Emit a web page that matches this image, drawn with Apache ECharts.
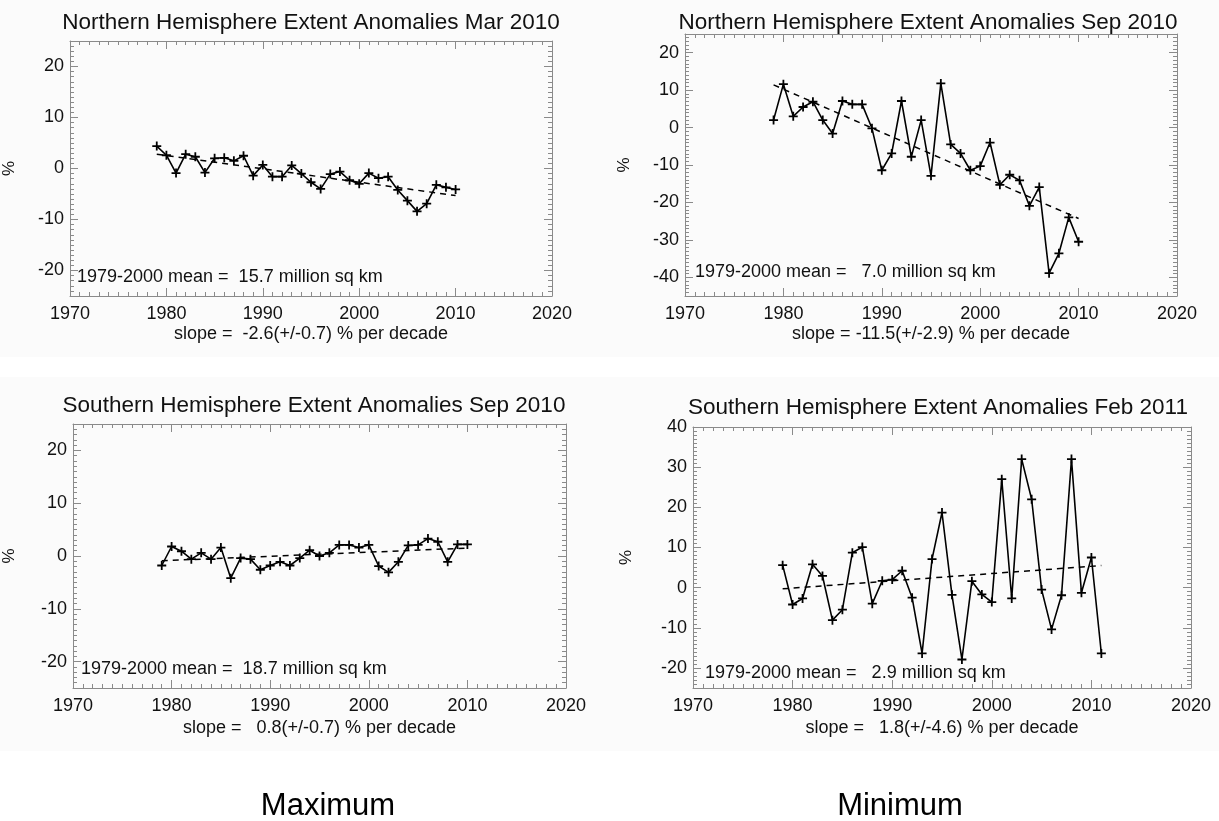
<!DOCTYPE html>
<html>
<head>
<meta charset="utf-8">
<script src="https://cdn.jsdelivr.net/npm/echarts@6/dist/echarts.min.js"></script>
<style>
  html, body { margin: 0; padding: 0; background: #fff; }
  #chart { width: 1219px; height: 821px; }
</style>
</head>
<body>
<div id="chart"></div>
<script>
// Sea-ice extent anomalies (% of 1979-2000 mean)
const years79to10 = [1979, 1980, 1981, 1982, 1983, 1984, 1985, 1986, 1987, 1988,
  1989, 1990, 1991, 1992, 1993, 1994, 1995, 1996, 1997, 1998, 1999, 2000,
  2001, 2002, 2003, 2004, 2005, 2006, 2007, 2008, 2009, 2010];
const years79to11 = [1979, 1980, 1981, 1982, 1983, 1984, 1985, 1986, 1987, 1988,
  1989, 1990, 1991, 1992, 1993, 1994, 1995, 1996, 1997, 1998, 1999, 2000,
  2001, 2002, 2003, 2004, 2005, 2006, 2007, 2008, 2009, 2010, 2011];

const nhMar = [4.4, 2.6, -0.9, 2.8, 2.3, -0.8, 2.0, 2.1, 1.5, 2.5, -1.4, 0.7,
  -1.6, -1.6, 0.6, -1.0, -2.7, -4.0, -1.1, -0.6, -2.3, -3.0, -0.9, -1.9, -1.6,
  -4.2, -6.3, -8.4, -6.9, -3.2, -3.7, -4.1];
const nhSep = [2.0, 11.6, 3.0, 5.5, 6.9, 2.0, -1.6, 7.1, 6.2, 6.2, -0.2, -11.4,
  -6.9, 7.1, -7.8, 2.0, -12.9, 11.8, -4.5, -6.9, -11.4, -10.3, -4.0, -15.3,
  -12.6, -14.1, -20.9, -15.9, -38.9, -33.6, -24.0, -30.5];
const shSep = [-1.8, 1.8, 0.9, -0.6, 0.6, -0.6, 1.6, -4.2, -0.4, -0.6, -2.6,
  -1.8, -1.1, -1.8, -0.4, 1.1, 0.0, 0.6, 2.1, 2.1, 1.6, 2.1, -1.9, -3.1, -1.1,
  2.0, 2.1, 3.3, 2.7, -1.1, 2.2, 2.2];
const shFeb = [5.6, -4.2, -2.7, 5.8, 2.9, -8.1, -5.5, 8.7, 10.1, -4.0, 1.7, 2.0,
  4.2, -2.5, -16.4, 7.1, 18.7, -1.8, -17.9, 1.6, -1.7, -3.6, 27.0, -2.7, 32.0,
  22.0, -0.5, -10.4, -1.9, 32.0, -1.3, 7.5, -16.4];

// Linear trend end points [year, %]
const nhMarTrend = [[1979, 2.8], [2010, -5.3]];
const nhSepTrend = [[1979, 11.4], [2010, -24.3]];
const shSepTrend = [[1979, -0.9], [2010, 1.5]];
const shFebTrend = [[1979, -0.3], [2011, 5.5]];

// Axis ranges and labelled ticks
const yearTicks = [1970, 1980, 1990, 2000, 2010, 2020];
const nhMarYTicks = [-20, -10, 0, 10, 20];
const nhSepYTicks = [-40, -30, -20, -10, 0, 10, 20];
const shSepYTicks = [-20, -10, 0, 10, 20];
const shFebYTicks = [-20, -10, 0, 10, 20, 30, 40];

const titles = [
  'Northern Hemisphere Extent Anomalies Mar 2010',
  'Northern Hemisphere Extent Anomalies Sep 2010',
  'Southern Hemisphere Extent Anomalies Sep 2010',
  'Southern Hemisphere Extent Anomalies Feb 2011'
];
const meanTexts = [
  '1979-2000 mean =  15.7 million sq km',
  '1979-2000 mean =   7.0 million sq km',
  '1979-2000 mean =  18.7 million sq km',
  '1979-2000 mean =   2.9 million sq km'
];
const slopeTexts = [
  'slope =  -2.6(+/-0.7) % per decade',
  'slope = -11.5(+/-2.9) % per decade',
  'slope =   0.8(+/-0.7) % per decade',
  'slope =   1.8(+/-4.6) % per decade'
];

const FONT = '"Liberation Sans", Arial, Helvetica, sans-serif';
const INK = '#111';
const FRAME = '#8a8a8a';

const panels = [
  { grid: { left: 67, top: 41, width: 485, height: 255 }, yMin: -25, yMax: 25,
    yTicks: nhMarYTicks, years: years79to10, values: nhMar, trend: nhMarTrend,
    yNameGap: 52, slopeGap: 38,
    titlePos: [311, 22.5], meanPos: [77, 277] },
  { grid: { left: 685, top: 34, width: 492, height: 262 }, yMin: -45, yMax: 25,
    yTicks: nhSepYTicks, years: years79to10, values: nhSep, trend: nhSepTrend,
    yNameGap: 52, slopeGap: 38,
    titlePos: [928, 22.5], meanPos: [695, 272] },
  { grid: { left: 71, top: 424, width: 495, height: 264 }, yMin: -25, yMax: 25,
    yTicks: shSepYTicks, years: years79to10, values: shSep, trend: shSepTrend,
    yNameGap: 55, slopeGap: 40,
    titlePos: [314, 406], meanPos: [81, 669] },
  { grid: { left: 693, top: 427, width: 498, height: 261 }, yMin: -25, yMax: 40,
    yTicks: shFebYTicks, years: years79to11, values: shFeb, trend: shFebTrend,
    yNameGap: 58, slopeGap: 40,
    titlePos: [938, 408], meanPos: [705, 673] }
];

// "+" marker as a filled cross
const PLUS = 'path://M4,0 H6 V4 H10 V6 H6 V10 H4 V6 H0 V4 H4 Z';

const grid = [], xAxis = [], yAxis = [], series = [], graphic = [];

// Faint panel backgrounds, one band per row
[[0, 0, 1219, 357], [0, 377, 1219, 374]]
  .forEach(r => graphic.push({ type: 'rect', z: -10, silent: true,
    shape: { x: r[0], y: r[1], width: r[2], height: r[3] },
    style: { fill: '#fbfbfb' } }));

panels.forEach((p, g) => {
  grid.push(Object.assign({ containLabel: false }, p.grid));

  const xBase = {
    type: 'value', gridIndex: g, min: 1970, max: 2020, interval: 10,
    axisLine: { show: true, onZero: false, lineStyle: { color: FRAME, width: 1 } },
    axisTick: { show: true, inside: true, length: 8, lineStyle: { color: FRAME } },
    minorTick: { show: true, splitNumber: 10, length: 4, lineStyle: { color: FRAME } },
    splitLine: { show: false }
  };
  // bottom axis with year labels and slope caption
  xAxis.push(Object.assign({}, xBase, {
    position: 'bottom',
    name: slopeTexts[g], nameLocation: 'middle', nameGap: p.slopeGap,
    nameTextStyle: { fontFamily: FONT, fontSize: 18, color: INK, verticalAlign: 'middle' },
    axisLabel: { show: true, margin: 9, fontFamily: FONT, fontSize: 18, color: INK,
      showMinLabel: true, showMaxLabel: true, customValues: yearTicks,
      formatter: v => String(v) }
  }));
  // top frame edge
  xAxis.push(Object.assign({}, xBase, { position: 'top', axisLabel: { show: false } }));

  const yMain = (pos, labels) => ({
    type: 'value', gridIndex: g, position: pos, min: p.yMin, max: p.yMax, interval: 5,
    axisLine: { show: true, onZero: false, lineStyle: { color: FRAME, width: 1 } },
    axisTick: { show: true, inside: true, length: 8, customValues: p.yTicks,
      lineStyle: { color: FRAME } },
    axisLabel: labels ? { show: true, margin: 6, fontFamily: FONT, fontSize: 18, color: INK,
      customValues: p.yTicks, showMinLabel: true, showMaxLabel: true,
      formatter: v => (v % 10 === 0 ? String(v) : '') } : { show: false },
    splitLine: { show: false }
  });
  const yMinor = pos => ({
    type: 'value', gridIndex: g, position: pos, min: p.yMin, max: p.yMax, interval: 1,
    axisLine: { show: false },
    axisTick: { show: true, inside: true, length: 4, lineStyle: { color: FRAME } },
    axisLabel: { show: false },
    splitLine: { show: false }
  });
  const left = yMain('left', true);
  left.name = '%';
  left.nameLocation = 'middle';
  left.nameGap = p.yNameGap;
  left.nameRotate = 90;
  left.nameTextStyle = { fontFamily: FONT, fontSize: 17, color: INK };
  yAxis.push(left, yMinor('left'), yMain('right', false), yMinor('right'));

  const xi = 2 * g, yi = 4 * g;
  series.push({
    type: 'line', xAxisIndex: xi, yAxisIndex: yi,
    data: p.trend, symbol: 'none', silent: true,
    lineStyle: { color: '#000', width: 1.5, type: [6, 5] },
    z: 2
  });
  series.push({
    type: 'line', xAxisIndex: xi, yAxisIndex: yi,
    data: p.years.map((yr, i) => [yr, p.values[i]]),
    symbol: PLUS, symbolSize: 9, showAllSymbol: true,
    itemStyle: { color: '#000' },
    lineStyle: { color: '#000', width: 1.6 },
    silent: true, z: 3
  });

  graphic.push({ type: 'text', x: p.titlePos[0], y: p.titlePos[1], z: 10,
    style: { text: titles[g], font: '22.5px ' + FONT, fill: INK,
      align: 'center', verticalAlign: 'middle' } });
  graphic.push({ type: 'text', x: p.meanPos[0], y: p.meanPos[1], z: 10,
    style: { text: meanTexts[g], font: '18px ' + FONT, fill: INK,
      align: 'left', verticalAlign: 'middle' } });
});

graphic.push({ type: 'text', x: 328, y: 806, z: 10,
  style: { text: 'Maximum', font: '31px ' + FONT, fill: '#000',
    align: 'center', verticalAlign: 'middle' } });
graphic.push({ type: 'text', x: 900, y: 806, z: 10,
  style: { text: 'Minimum', font: '31px ' + FONT, fill: '#000',
    align: 'center', verticalAlign: 'middle' } });

const chart = echarts.init(document.getElementById('chart'), null, { renderer: 'canvas' });
chart.setOption({
  backgroundColor: '#ffffff',
  animation: false,
  grid, xAxis, yAxis, series, graphic
});
</script>
</body>
</html>
